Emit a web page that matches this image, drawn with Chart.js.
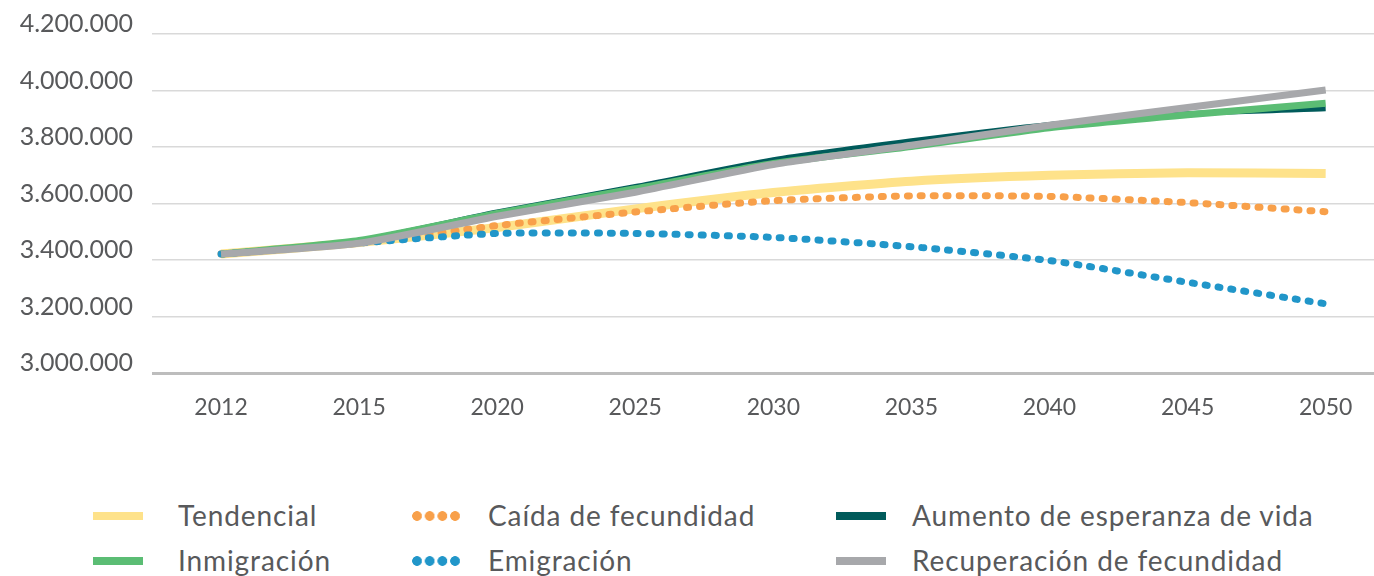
<!DOCTYPE html>
<html>
<head>
<meta charset="utf-8">
<script src="https://cdn.jsdelivr.net/npm/chart.js@4/dist/chart.umd.min.js"></script>
<style>
    body { margin: 0; background: #fff; }
    #wrap { position: relative; width: 1374px; height: 576px; overflow: hidden; font-family: Lato, "Open Sans", sans-serif; }
    #chart-box { position: absolute; left: 0; top: 0; width: 1374px; height: 440px; }
    .swatch { position: absolute; height: 8px; width: 50px; }
    .label { position: absolute; font-size: 28px; letter-spacing: 0.9px; color: #58595b; white-space: nowrap; line-height: 1; }
</style>
</head>
<body>
<div id="wrap">
    <div id="chart-box"><canvas id="proyeccion"></canvas></div>
    <div id="legend"></div>
</div>
<script>
// ---------------------------- Données ------------------------------------
const years = ['2012', '2015', '2020', '2025', '2030', '2035', '2040', '2045', '2050'];
const tendencial = [3421000, 3462000, 3515000, 3581000, 3639000, 3679000, 3700000, 3709000, 3706000];
const caidaFecundidad = [3421000, 3460000, 3522000, 3570000, 3610000, 3627000, 3625000, 3603000, 3571000];
const aumentoEsperanza = [3421000, 3469000, 3570000, 3660000, 3755000, 3822000, 3880000, 3918000, 3935000];
const inmigracion = [3421000, 3469000, 3565000, 3652000, 3742000, 3802000, 3868000, 3914000, 3955000];
const emigracion = [3421000, 3460000, 3494000, 3494000, 3480000, 3447000, 3398000, 3321000, 3245000];
const recuperacion = [3421000, 3459000, 3555000, 3640000, 3738000, 3806000, 3877000, 3940000, 4002000];
const yTicks = [3000000, 3200000, 3400000, 3600000, 3800000, 4000000, 4200000];

const series = [
    { name: 'Tendencial', values: tendencial, color: '#fee28a', width: 9, dotted: false, order: 6 },
    { name: 'Caída de fecundidad', values: caidaFecundidad, color: '#f8a04a', width: 7, dotted: true, order: 5 },
    { name: 'Aumento de esperanza de vida', values: aumentoEsperanza, color: '#015b5b', width: 5, dotted: false, order: 3 },
    { name: 'Inmigración', values: inmigracion, color: '#5bbd74', width: 7, dotted: false, order: 2 },
    { name: 'Emigración', values: emigracion, color: '#2196c9', width: 7, dotted: true, order: 4 },
    { name: 'Recuperación de fecundidad', values: recuperacion, color: '#a7a8ab', width: 7, dotted: false, order: 1 }
];

function formatMiles(v) {
    return String(v).replace(/\B(?=(\d{3})+(?!\d))/g, '.');
}

// ---------------------------- Graphique ------------------------------------
const fontFamily = 'Lato, "Open Sans", sans-serif';

new Chart(document.getElementById('proyeccion'), {
    type: 'line',
    data: {
        datasets: series.map(s => ({
            label: s.name,
            data: s.values.map((v, i) => ({ x: i, y: v })),
            borderColor: s.color,
            backgroundColor: s.color,
            borderWidth: s.width,
            borderDash: s.dotted ? [2, 11] : [],
            borderCapStyle: s.dotted ? 'round' : 'butt',
            borderJoinStyle: 'round',
            pointRadius: 0,
            tension: 0.2,
            order: s.order
        }))
    },
    options: {
        responsive: true,
        maintainAspectRatio: false,
        animation: false,
        layout: { padding: { top: 33, right: 0, bottom: 0, left: 0 } },
        plugins: {
            legend: { display: false },
            tooltip: { enabled: false }
        },
        scales: {
            x: {
                type: 'linear',
                min: -0.5,
                max: 8.35,
                afterBuildTicks: axis => { axis.ticks = years.map((y, i) => ({ value: i })); },
                afterFit: axis => { axis.height = 67; },
                grid: { display: false },
                border: { display: false },
                ticks: {
                    font: { family: fontFamily, size: 23 },
                    color: '#58595b',
                    padding: 13,
                    maxRotation: 0,
                    autoSkip: false,
                    callback: value => years[value]
                }
            },
            y: {
                min: 3000000,
                max: 4200000,
                afterBuildTicks: axis => { axis.ticks = yTicks.map(v => ({ value: v })); },
                afterFit: axis => { axis.width = 152; },
                border: { display: false },
                grid: {
                    drawTicks: false,
                    color: ctx => ctx.tick && ctx.tick.value === 3000000 ? '#bdbdbd' : '#d9d9d9',
                    lineWidth: ctx => ctx.tick && ctx.tick.value === 3000000 ? 3 : 1.5
                },
                ticks: {
                    font: { family: fontFamily, size: 25 },
                    color: '#58595b',
                    padding: 19,
                    labelOffset: -10,
                    callback: value => formatMiles(value)
                }
            }
        }
    }
});

// ---------------------------- Légende ------------------------------------
const legendPos = [
    { sx: 93, tx: 178, y: 516 },
    { sx: 412, tx: 488, y: 516 },
    { sx: 836, tx: 912, y: 516 },
    { sx: 93, tx: 178, y: 561 },
    { sx: 412, tx: 488, y: 561 },
    { sx: 836, tx: 912, y: 561 }
];
const legend = document.getElementById('legend');
series.forEach((s, i) => {
    const p = legendPos[i];
    const sw = document.createElement('div');
    sw.className = 'swatch';
    sw.style.left = p.sx + 'px';
    if (s.dotted) {
        sw.style.top = (p.y - 5) + 'px';
        sw.style.height = '10px';
        sw.style.width = '48px';
        sw.style.background = `radial-gradient(circle at 5px 5px, ${s.color} 4.5px, transparent 5.2px) 0 0 / 12.7px 10px repeat-x`;
    } else {
        sw.style.top = (p.y - 4) + 'px';
        sw.style.background = s.color;
    }
    legend.appendChild(sw);
    const lb = document.createElement('div');
    lb.className = 'label';
    lb.textContent = s.name;
    lb.style.left = p.tx + 'px';
    lb.style.top = (p.y - 15) + 'px';
    legend.appendChild(lb);
});
</script>
</body>
</html>
